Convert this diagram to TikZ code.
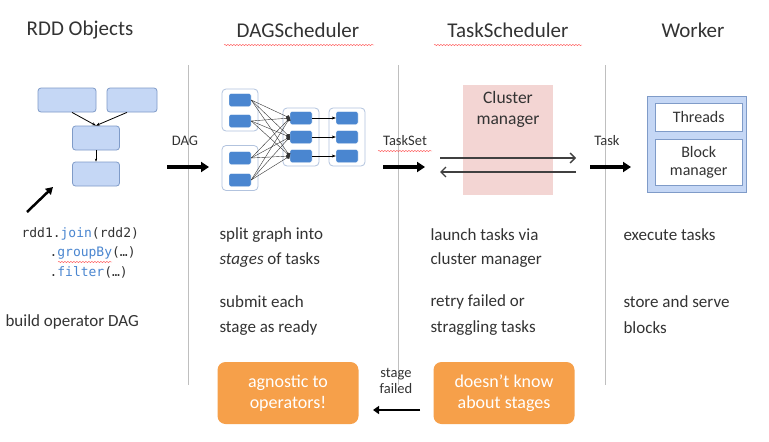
\documentclass[tikz,border=0pt]{standalone}
\usepackage{fontspec}
\setmainfont{Carlito}
\newfontfamily\codefont{DejaVu Sans Mono}
\usetikzlibrary{arrows.meta,decorations.pathmorphing}
\definecolor{lblue}{HTML}{C5D7F5}
\definecolor{bblue}{HTML}{7F9BC8}
\definecolor{dblue}{HTML}{4A86D0}
\definecolor{pinkc}{HTML}{F3D5D3}
\definecolor{orng}{HTML}{F6A04A}
\definecolor{txt}{HTML}{333333}
\begin{document}
\begin{tikzpicture}[x=1pt,y=-1pt,
  title/.style={font=\fontsize{21}{23}\selectfont,text=txt},
  body/.style={font=\fontsize{17}{19}\selectfont,text=txt,anchor=west},
  rdd/.style={draw=bblue,fill=lblue,rounded corners=3pt,line width=0.8pt,minimum height=24pt},
  sb/.style={draw=white,fill=dblue,rounded corners=2pt,minimum width=22pt,minimum height=13pt,inner sep=0pt},
  grp/.style={draw=bblue!60,fill=white,rounded corners=4pt,line width=0.8pt},
  big/.style={-{Triangle[length=8pt,width=10pt]},line width=3.5pt},
  sep/.style={draw=black!25,line width=0.8pt},
  squig/.style={red!70,decorate,decoration={snake,amplitude=0.6pt,segment length=3pt}},
  orb/.style={fill=orng,rounded corners=8pt,text=white,align=center,font=\fontsize{18}{21}\selectfont,minimum width=141pt,minimum height=62pt},
  lbl/.style={font=\fontsize{14.5}{16}\selectfont,text=txt}]
\useasboundingbox (0,0) rectangle (769,442);
\fill[white] (0,0) rectangle (769,442);
% titles
\node[title] (t1) at (80,30) {RDD Objects};
\node[title] (t2) at (298,30) {DAGScheduler};
\node[title] (t3) at (508,30) {TaskScheduler};
\node[title] (t4) at (693,30) {Worker};
\draw[squig] (224,45) -- (374,45);
\draw[squig] (434,45) -- (582,45);
% separators
\coordinate (s1a) at (188,65); \coordinate (s1b) at (188,385);
\coordinate (s2a) at (398,65); \coordinate (s2b) at (398,385);
\coordinate (s3a) at (605,65); \coordinate (s3b) at (605,385);
\draw[sep] (s1a)--(s1b); \draw[sep] (s2a)--(s2b); \draw[sep] (s3a)--(s3b);
% RDD graph
\node[rdd,minimum width=58pt] (r1) at (67,100) {};
\node[rdd,minimum width=50pt] (r2) at (132,100) {};
\node[rdd,minimum width=47pt] (r3) at (96,138) {};
\node[rdd,minimum width=47pt] (r4) at (96,174) {};
\draw[-{Stealth[length=4pt]},thick] (r1.south) ++(5,0) -- (r3.north);
\draw[-{Stealth[length=4pt]},thick] (r2.south) ++(-5,0) -- (r3.north);
\draw[-{Stealth[length=3pt]}] (r3) -- (r4);
\coordinate (pa) at (27,212); \coordinate (pb) at (53,187);
\draw[-{Triangle[length=7pt,width=8pt]},line width=2.5pt] (pa)--(pb);
% code
\node[anchor=west,font=\codefont\fontsize{13}{14}\selectfont,text=txt] (c1) at (18,234) {rdd1.\textcolor{dblue}{join}(rdd2)};
\node[anchor=west,font=\codefont\fontsize{13}{14}\selectfont,text=txt] (c2) at (46,253) {.\textcolor{dblue}{groupBy}(…)};
\node[anchor=west,font=\codefont\fontsize{13}{14}\selectfont,text=txt] (c3) at (46,272) {.\textcolor{dblue}{filter}(…)};
\draw[squig] (58,262) -- (112,262);
\node[body] (bod) at (2,322) {build operator DAG};
% DAG arrow
\node[lbl] (dag) at (185,141) {DAG};
\coordinate (d1) at (167,167); \coordinate (d2) at (209,167);
\draw[big] (d1)--(d2);
% DAG scheduler graph
\node[grp,minimum width=36pt,minimum height=42pt] (g1) at (240,110) {};
\node[grp,minimum width=36pt,minimum height=45pt] (g2) at (240,168) {};
\node[grp,minimum width=36pt,minimum height=58pt] (g3) at (301,137) {};
\node[grp,minimum width=36pt,minimum height=58pt] (g4) at (347,137) {};
\node[sb] (a1) at (240,100) {}; \node[sb] (a2) at (240,121) {};
\node[sb] (a3) at (240,158) {}; \node[sb] (a4) at (240,180) {};
\node[sb] (b1) at (301,118) {}; \node[sb] (b2) at (301,137) {}; \node[sb] (b3) at (301,156) {};
\node[sb] (e1) at (347,118) {}; \node[sb] (e2) at (347,137) {}; \node[sb] (e3) at (347,156) {};
\foreach \a in {a1,a2,a3,a4}{\foreach \b in {b1,b2,b3}{\draw[black!80,-{Circle[length=4pt]}] (\a.east)--(\b.west);}}
\draw[-{Stealth[length=4pt]}] (b1)--(e1); \draw[-{Stealth[length=4pt]}] (b2)--(e2); \draw[-{Stealth[length=4pt]}] (b3)--(e3);
% TaskSet
\node[lbl] (ts) at (405,141) {TaskSet};
\draw[squig] (378,151) -- (432,151);
\coordinate (k1) at (383,167); \coordinate (k2) at (425,167);
\draw[big] (k1)--(k2);
% cluster manager
\node[fill=pinkc,minimum width=90pt,minimum height=110pt,anchor=north west] (cm) at (463,85) {};
\node[font=\fontsize{17.5}{21}\selectfont,text=txt,align=center,anchor=north] (cmt) at (508,88) {Cluster\\manager};
\coordinate (m1) at (440,158); \coordinate (m2) at (576,158);
\coordinate (m3) at (576,172); \coordinate (m4) at (440,172);
\draw[-{Straight Barb[length=5pt]},line width=1.3pt,black!75] (m1)--(m2);
\draw[-{Straight Barb[length=5pt]},line width=1.3pt,black!75] (m3)--(m4);
% Task
\node[lbl] (tk) at (607,141) {Task};
\coordinate (q1) at (590,167); \coordinate (q2) at (631,167);
\draw[big] (q1)--(q2);
% worker
\node[draw=bblue,fill=lblue,line width=1pt,minimum width=99pt,minimum height=96pt,anchor=north west] (wk) at (647,96) {};
\node[draw=bblue,fill=white,minimum width=87pt,minimum height=28pt,anchor=north west,font=\fontsize{16}{18}\selectfont,text=txt] (th) at (655,103) {Threads};
\node[draw=bblue,fill=white,minimum width=87pt,minimum height=46pt,anchor=north west,align=center,font=\fontsize{16}{18}\selectfont,text=txt] (bm) at (655,139) {Block\\manager};
% body texts
\node[body] (x1) at (216,235) {split graph into};
\node[body] (x2) at (216,260) {\textit{stages} of tasks};
\node[body] (x3) at (216,302) {submit each};
\node[body] (x4) at (216,328) {stage as ready};
\node[body] (y1) at (427,235) {launch tasks via};
\node[body] (y2) at (427,260) {cluster manager};
\node[body] (y3) at (427,302) {retry failed or};
\node[body] (y4) at (427,328) {straggling tasks};
\node[body] (z1) at (620,235) {execute tasks};
\node[body] (z2) at (620,302) {store and serve};
\node[body] (z3) at (620,328) {blocks};
% orange boxes
\node[orb] (o1) at (288,393) {agnostic to\\operators!};
\node[orb] (o2) at (504,393) {doesn't know\\about stages};
\node[lbl,align=center] (sf) at (396,381) {stage\\failed};
\coordinate (f1) at (420,410); \coordinate (f2) at (373,410);
\draw[-{Triangle[length=6pt,width=8pt]},line width=2.5pt] (f1)--(f2);
\end{tikzpicture}
\end{document}
